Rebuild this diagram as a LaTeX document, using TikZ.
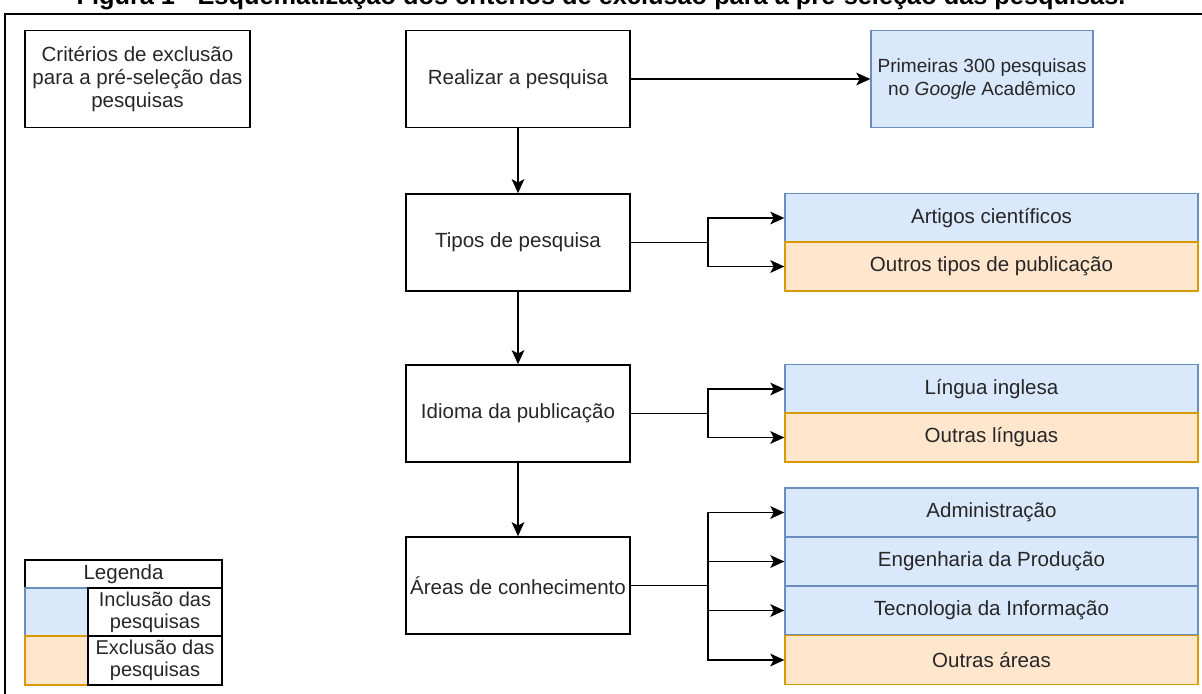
\documentclass[tikz,border=0pt]{standalone}
\usepackage{fontspec}
\setmainfont{Liberation Sans}
\usetikzlibrary{arrows.meta}

\definecolor{incfill}{HTML}{DAE8FC}
\definecolor{incline}{HTML}{6C8EBF}
\definecolor{excfill}{HTML}{FFE6CC}
\definecolor{excline}{HTML}{D79B00}
\definecolor{txt}{HTML}{262626}

\tikzset{
  base/.style={rectangle, inner sep=0pt, align=center, text=txt,
    font=\fontsize{15.4pt}{17.4pt}\selectfont},
  mainbox/.style={base, draw=black, line width=1.25pt,
    minimum width=168pt, minimum height=72.75pt},
  incbox/.style={base, draw=incline, fill=incfill, line width=1pt,
    minimum width=309.75pt, minimum height=36.6pt},
  excbox/.style={base, draw=excline, fill=excfill, line width=1pt,
    minimum width=309.75pt, minimum height=36.6pt},
  legcell/.style={base, draw=black, line width=1pt, inner sep=0pt},
  arr/.style={line width=1.25pt, -{Stealth[length=10.5pt,width=9.5pt,inset=2.5pt]}},
  link/.style={line width=1.25pt}
}

\begin{document}
\begin{tikzpicture}[x=0.75pt, y=-0.75pt]
\useasboundingbox (0,0) rectangle (1202,693);

% caption line and outer frame
\node[anchor=base, text=black, inner sep=0pt,
  font=\fontsize{19pt}{20pt}\selectfont\bfseries] (title) at (601,4.5)
  {Figura 1 - Esquematização dos critérios de exclusão para a pré-seleção das pesquisas.};
\draw[line width=1.5pt] (4.5,720) -- (4.5,13.5) -- (1230,13.5);

% heading box
\node[mainbox, minimum width=168.75pt] (crit) at (137.5,79)
  {Critérios de exclusão\\para a pré-seleção das\\pesquisas};

% main flow
\node[mainbox] (real) at (518,79) {Realizar a pesquisa};
\node[mainbox] (tipo) at (518,242.5) {Tipos de pesquisa};
\node[mainbox] (idio) at (518,413.5) {Idioma da publicação};
\node[mainbox] (area) at (518,585.5) {Áreas de conhecimento};

\node[incbox, minimum width=166.5pt, minimum height=72.75pt,
  font=\fontsize{14.3pt}{17.6pt}\selectfont] (prim) at (982,79)
  {Primeiras 300 pesquisas\\no \textit{Google} Acadêmico};

% outcome boxes
\node[incbox] (art)  at (991.5,218) {Artigos científicos};
\node[excbox] (otip) at (991.5,266.5) {Outros tipos de publicação};
\node[incbox] (ing)  at (991.5,389) {Língua inglesa};
\node[excbox] (olin) at (991.5,437.5) {Outras línguas};
\node[incbox] (adm)  at (991.5,512.5) {Administração};
\node[incbox] (eng)  at (991.5,561.5) {Engenharia da Produção};
\node[incbox] (tec)  at (991.5,610.5) {Tecnologia da Informação};
\node[excbox] (oare) at (991.5,660) {Outras áreas};

% vertical flow
\draw[arr] (real) -- (prim);
\draw[arr] (real) -- (tipo);
\draw[arr] (tipo) -- (idio);
\draw[arr] (idio) -- (area);

% branching connectors
\coordinate (j1) at (708,242.5);
\coordinate (j2) at (708,413.5);
\coordinate (j3) at (708,585.5);
\draw[link] (tipo.east) -- (j1);
\draw[arr] (j1) |- (art.west);
\draw[arr] (j1) |- (otip.west);
\draw[link] (idio.east) -- (j2);
\draw[arr] (j2) |- (ing.west);
\draw[arr] (j2) |- (olin.west);
\draw[link] (area.east) -- (j3);
\draw[arr] (j3) |- (adm.west);
\draw[arr] (j3) |- (eng.west);
\draw[arr] (j3) |- (tec.west);
\draw[arr] (j3) |- (oare.west);

% legend
\node[legcell, minimum width=147.75pt, minimum height=21pt] (leg) at (123.5,574) {Legenda};
\node[legcell, draw=incline, fill=incfill, minimum width=47.25pt, minimum height=36pt] (sinc) at (56.5,612) {};
\node[legcell, draw=excline, fill=excfill, minimum width=47.25pt, minimum height=36.75pt] (sexc) at (56.5,660.5) {};
\node[legcell, minimum width=100.5pt, minimum height=36pt,
  font=\fontsize{15pt}{16.5pt}\selectfont] (tinc) at (155,612) {Inclusão das\\pesquisas};
\node[legcell, minimum width=100.5pt, minimum height=36.75pt,
  font=\fontsize{15pt}{16.5pt}\selectfont] (texc) at (155,660.5) {Exclusão das\\pesquisas};
\end{tikzpicture}
\end{document}
